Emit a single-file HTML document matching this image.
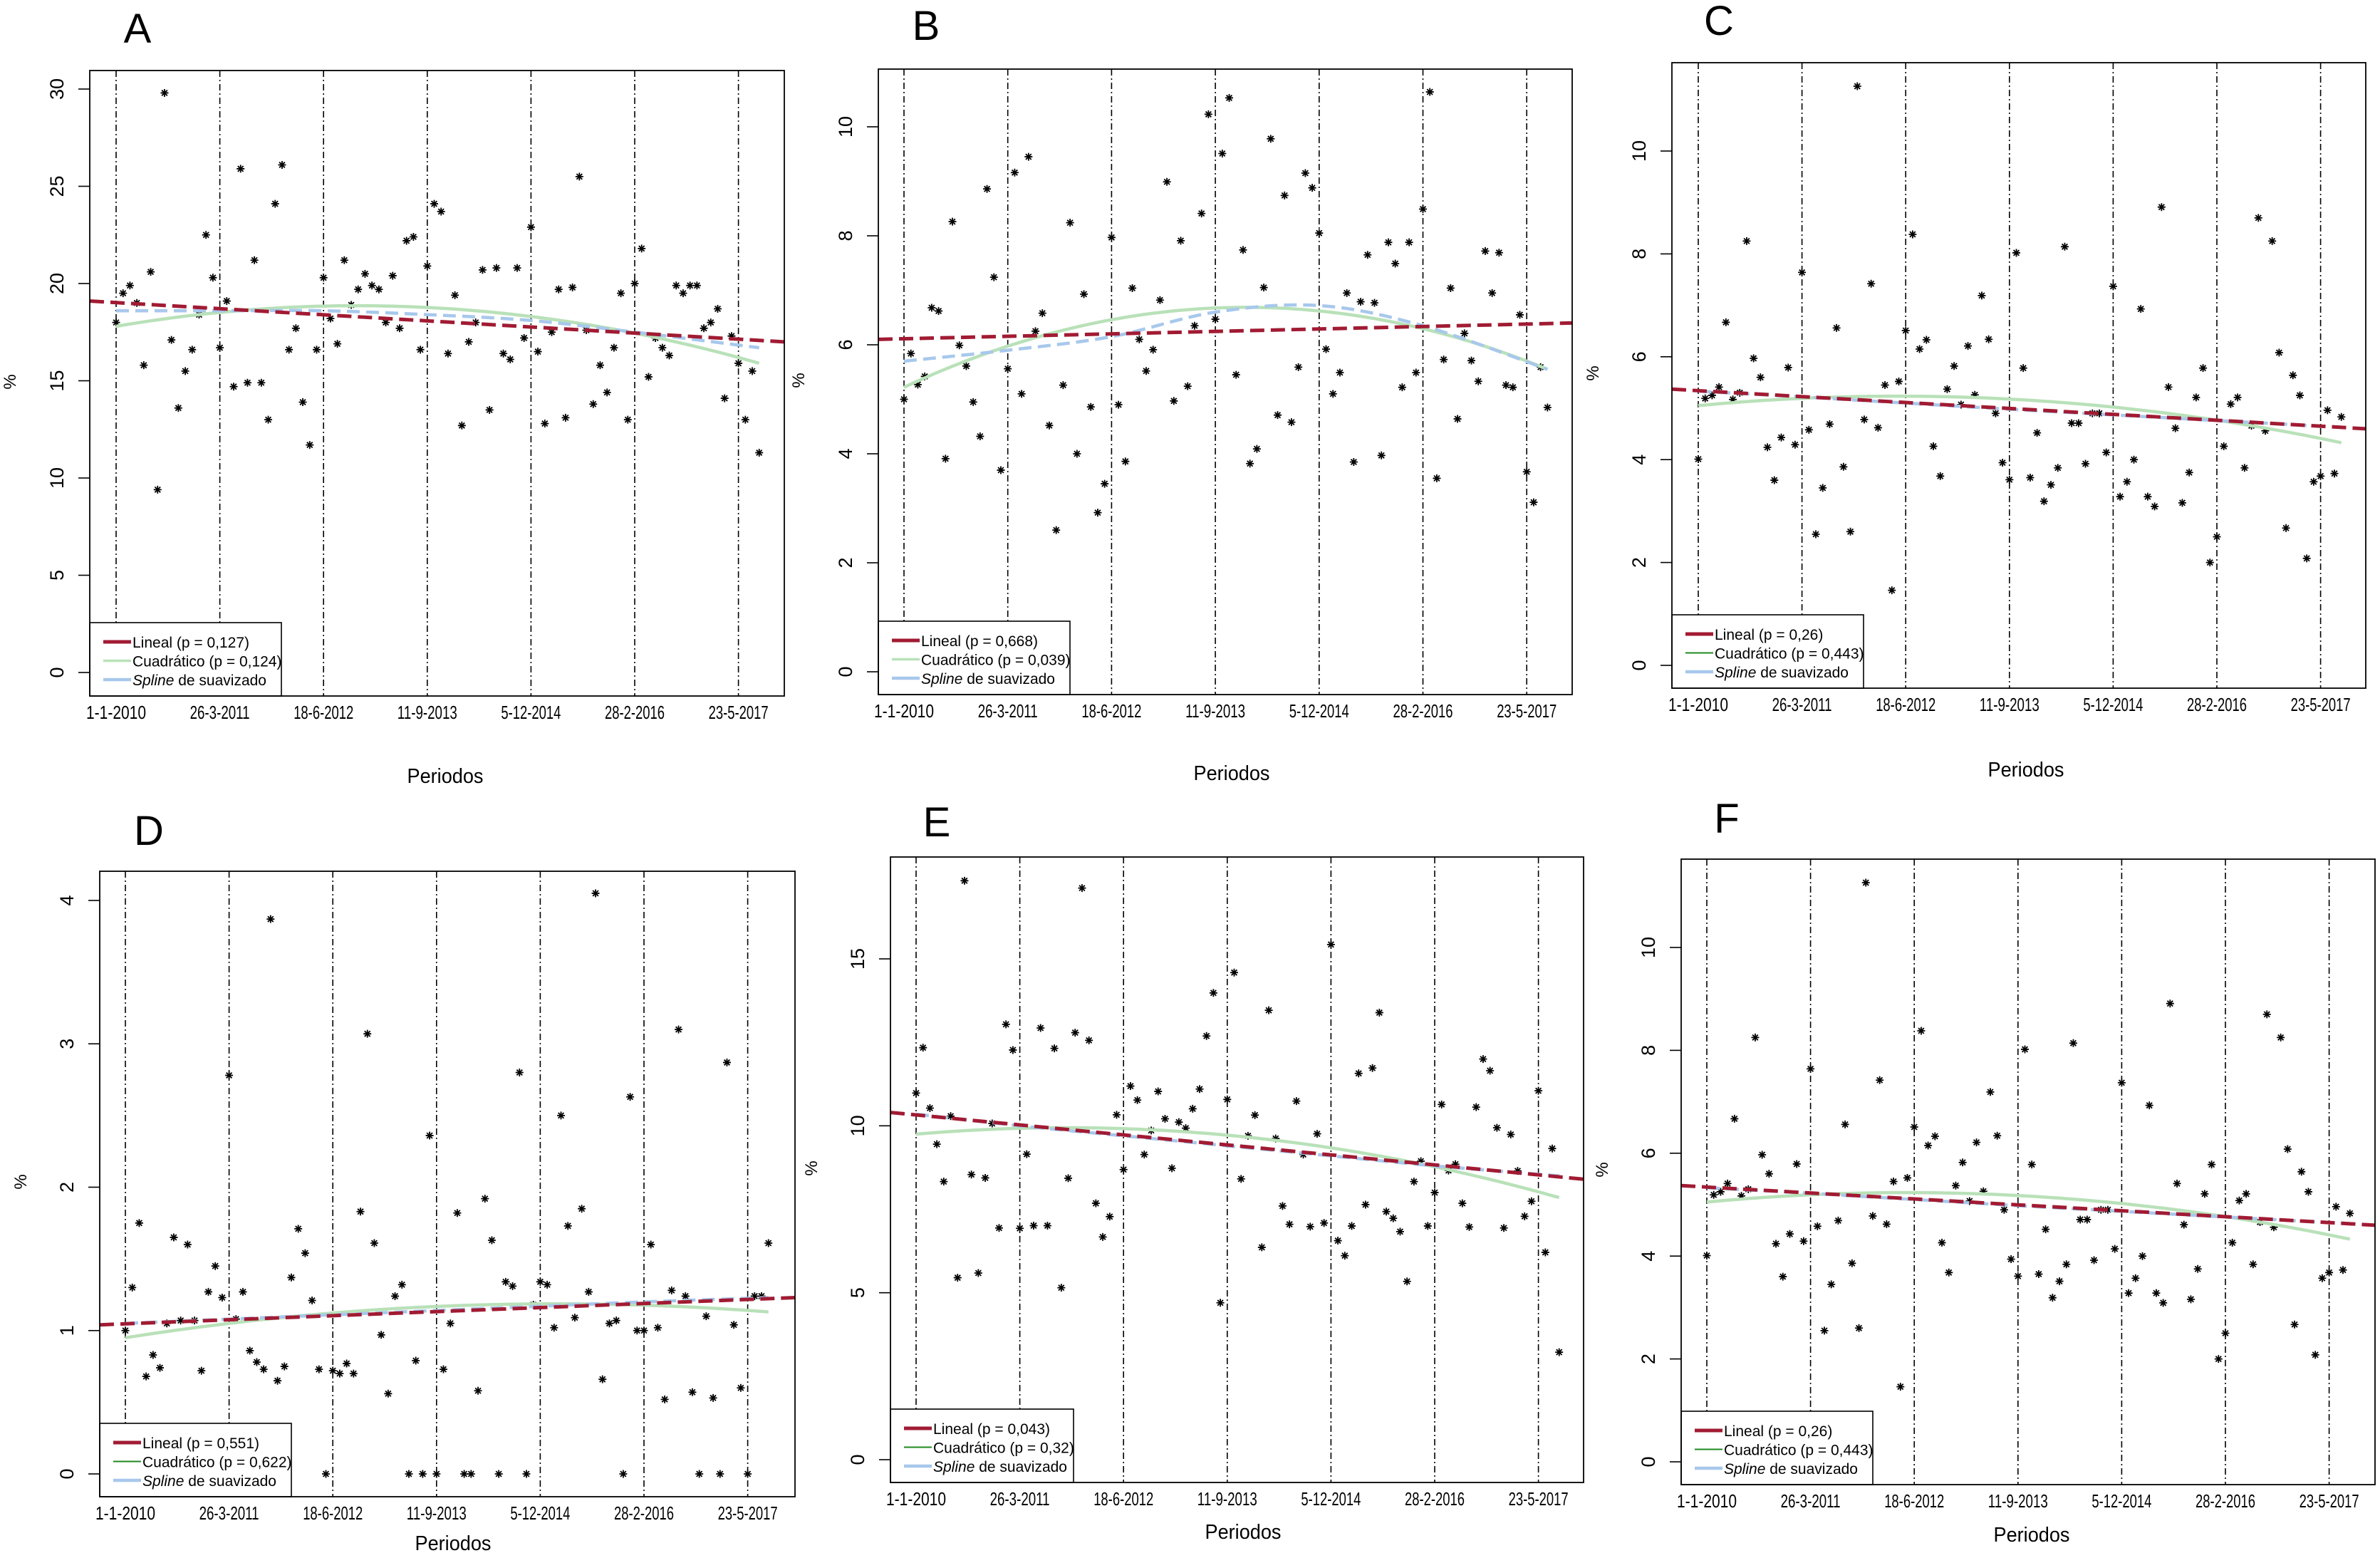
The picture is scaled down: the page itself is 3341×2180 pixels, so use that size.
<!DOCTYPE html>
<html><head><meta charset="utf-8"><style>
html,body{margin:0;padding:0;background:#fff;}
svg{display:block;font-family:"Liberation Sans",Arial,sans-serif;}
</style></head><body>
<svg id="fig" width="3341" height="2180" viewBox="0 0 3341 2180" xmlns="http://www.w3.org/2000/svg"></svg>
<script>
// ---- data (monthly values, month index 0..93) ----
const xTickLabels = ["1-1-2010","26-3-2011","18-6-2012","11-9-2013","5-12-2014","28-2-2016","23-5-2017"];
const valsA = [18.0,19.5,19.9,19.0,15.8,20.6,9.4,29.8,17.1,13.6,15.5,16.6,18.4,22.5,20.3,16.7,19.1,14.7,25.9,14.9,21.2,14.9,13.0,24.1,26.1,16.6,17.7,13.9,11.7,16.6,20.3,18.2,16.9,21.2,18.9,19.7,20.5,19.9,19.7,18.0,20.4,17.7,22.2,22.4,16.6,20.9,24.1,23.7,16.4,19.4,12.7,17.0,18.0,20.7,13.5,20.8,16.4,16.1,20.8,17.2,22.9,16.5,12.8,17.5,19.7,13.1,19.8,25.5,17.6,13.8,15.8,14.4,16.7,19.5,13.0,20.0,21.8,15.2,17.2,16.7,16.3,19.9,19.5,19.9,19.9,17.7,18.0,18.7,14.1,17.3,15.9,13.0,15.5,11.3];
const valsB = [5.0,5.84,5.27,5.42,6.68,6.62,3.91,8.26,5.99,5.61,4.95,4.32,8.86,7.24,3.70,5.56,9.16,5.10,9.45,6.25,6.58,4.52,2.60,5.26,8.24,4.00,6.93,4.86,2.92,3.45,7.97,4.90,3.86,7.04,6.10,5.52,5.91,6.82,8.99,4.97,7.91,5.24,6.35,8.41,10.23,6.47,9.51,10.53,5.45,7.74,3.82,4.09,7.05,9.78,4.71,8.74,4.58,5.59,9.15,8.88,8.05,5.92,5.10,5.49,6.95,3.85,6.79,7.65,6.77,3.97,7.88,7.49,5.22,7.88,5.49,8.49,10.64,3.55,5.73,7.04,4.64,6.21,5.71,5.33,7.72,6.95,7.69,5.26,5.22,6.55,3.67,3.11,5.59,4.85];
const valsC = [4.01,5.19,5.25,5.41,6.67,5.17,5.3,8.25,5.97,5.60,4.24,3.60,4.43,5.79,4.29,7.64,4.58,2.55,3.45,4.69,6.56,3.86,2.60,11.26,4.78,7.42,4.62,5.45,1.46,5.52,6.51,8.38,6.15,6.33,4.26,3.68,5.37,5.82,5.07,6.21,5.26,7.19,6.34,4.90,3.94,3.61,8.02,5.78,3.65,4.52,3.19,3.51,3.84,8.14,4.71,4.71,3.92,4.90,4.90,4.14,7.37,3.28,3.57,4.00,6.93,3.28,3.09,8.91,5.41,4.61,3.16,3.75,5.21,5.78,2.00,2.50,4.26,5.08,5.21,3.84,4.66,8.70,4.56,8.25,6.08,2.67,5.64,5.25,2.08,3.57,3.68,4.96,3.73,4.83];
const valsD = [1.00,1.30,1.75,0.68,0.83,0.74,1.05,1.65,1.07,1.60,1.07,0.72,1.27,1.45,1.23,2.78,1.08,1.27,0.86,0.78,0.73,3.87,0.65,0.75,1.37,1.71,1.54,1.21,0.73,0,0.72,0.70,0.77,0.70,1.83,3.07,1.61,0.97,0.56,1.24,1.32,0,0.79,0,2.36,0,0.73,1.05,1.82,0,0,0.58,1.92,1.63,0,1.34,1.31,2.80,0,1.18,1.34,1.32,1.02,2.50,1.73,1.09,1.85,1.27,4.05,0.66,1.05,1.07,0,2.63,1.00,1.00,1.60,1.02,0.52,1.28,3.10,1.24,0.57,0,1.10,0.53,0,2.87,1.04,0.60,0,1.24,1.24,1.61];
const valsE = [10.98,12.34,10.53,9.45,8.33,10.29,5.45,17.34,8.54,5.59,8.44,10.07,6.94,13.04,12.27,6.93,9.15,7.01,12.93,7.01,12.32,5.15,8.43,12.79,17.12,12.56,7.68,6.67,7.28,10.33,8.69,11.19,10.77,9.14,9.86,11.03,10.21,8.73,10.11,9.93,10.51,11.10,12.69,13.98,4.70,10.79,14.59,8.41,9.70,10.32,6.36,13.46,9.62,7.60,7.05,10.74,9.14,6.98,9.76,7.09,15.43,6.56,6.11,7.00,11.57,7.64,11.73,13.39,7.43,7.23,6.83,5.34,8.33,8.94,7.00,8.00,10.64,8.66,8.85,7.68,6.97,10.56,12.00,11.65,9.94,6.94,9.74,8.65,7.29,7.74,11.05,6.21,9.32,3.22];
const valsF = valsC.slice();
// fitted lines
const linA=[19.1,17.0], linB=[6.1,6.4], linC=[5.37,4.6], linD=[1.04,1.23], linE=[10.4,8.4], linF=[5.37,4.6];
const quadMonths=[0,46,93];
const quadA=[17.8,18.75,15.9], quadB=[5.22,6.68,5.55], quadC=[5.05,5.17,4.33], quadD=[0.95,1.17,1.13], quadE=[9.75,9.7,7.85], quadF=[5.05,5.17,4.33];
const splMonths=[0,15,30,45,60,75,93];
const splA=[18.6,18.6,18.6,18.4,18.1,17.5,16.7], splB=[5.7,5.9,6.15,6.6,6.72,6.35,5.55], splC=[5.33,5.22,5.1,4.98,4.87,4.76,4.63], splD=[1.05,1.08,1.11,1.14,1.17,1.2,1.23], splE=[10.35,10.0,9.7,9.4,9.1,8.8,8.5], splF=[5.33,5.22,5.1,4.98,4.87,4.76,4.63];
const yTicksA=[0,5,10,15,20,25,30], yTicksB=[0,2,4,6,8,10], yTicksC=[0,2,4,6,8,10], yTicksD=[0,1,2,3,4], yTicksE=[0,5,10,15], yTicksF=[0,2,4,6,8,10];
const pLin=["0,127","0,668","0,26","0,551","0,043","0,26"];
const pQuad=["0,124","0,039","0,443","0,622","0,32","0,443"];

// ---- layout ----
const panels=[
 {id:"A",box:[126,99,1101,977],v0:163,step:145.6,y0:944,yr:30,yrPx:125,title:[193,39],per:[625,1089],pct:[14,536],vals:valsA,lin:linA,quad:quadA,spl:splA,ticks:yTicksA,legW:269,qLight:true},
 {id:"B",box:[1233,97,2207,975],v0:1269,step:145.7,y0:943,yr:10,yrPx:178,title:[1300,35],per:[1729,1085],pct:[1121,534],vals:valsB,lin:linB,quad:quadB,spl:splB,ticks:yTicksB,legW:269,qLight:true},
 {id:"C",box:[2347,88,3321,966],v0:2384,step:145.6,y0:934,yr:10,yrPx:212,title:[2413,28],per:[2844,1080],pct:[2236,524],vals:valsC,lin:linC,quad:quadC,spl:splC,ticks:yTicksC,legW:269,qLight:false},
 {id:"D",box:[140,1223,1116,2101],v0:176,step:145.6,y0:2069,yr:4,yrPx:1264,title:[209,1165],per:[636,2166],pct:[29,1659],vals:valsD,lin:linD,quad:quadD,spl:splD,ticks:yTicksD,legW:269,qLight:false},
 {id:"E",box:[1250,1203,2223,2081],v0:1286,step:145.6,y0:2049,yr:15,yrPx:1346,title:[1315,1153],per:[1745,2150],pct:[1139,1640],vals:valsE,lin:linE,quad:quadE,spl:splE,ticks:yTicksE,legW:257,qLight:false},
 {id:"F",box:[2360,1206,3334,2084],v0:2396,step:145.6,y0:2052,yr:10,yrPx:1330,title:[2424,1148],per:[2852,2154],pct:[2249,1642],vals:valsF,lin:linF,quad:quadF,spl:splF,ticks:yTicksF,legW:269,qLight:true}
];
panels[5].qLight=false;
const NS="http://www.w3.org/2000/svg";
const svg=document.getElementById("fig");
function mk(tag,attrs,parent){const e=document.createElementNS(NS,tag);for(const k in attrs)e.setAttribute(k,attrs[k]);(parent||svg).appendChild(e);return e;}
const RED="#a11b33",LGREEN="#b9e1b9",DGREEN="#1f8a1f",BLUE="#a8c8ec";

panels.forEach((p,pi)=>{
  const [L,T,R,B]=p.box;
  const xOf=m=>p.v0+m*p.step/15;
  const yOf=v=>p.y0-v*(p.y0-p.yrPx)/p.yr;
  const mOfX=x=>(x-p.v0)*15/p.step;
  const g=mk("g",{});
  
  
  const clipId="clip"+p.id;
  const cp=mk("clipPath",{id:clipId},g);mk("rect",{x:L,y:T,width:R-L,height:B-T},cp);
  // title
  const t=mk("text",{x:p.title[0],y:p.title[1]+21,"font-size":58,"text-anchor":"middle",fill:"#000"},g);t.textContent=p.id;
  
  
  // vlines
  xTickLabels.forEach((lab,k)=>{
    const x=xOf(k*15);
    const vl=mk("line",{x1:x,y1:T,x2:x,y2:B,stroke:"#000","stroke-width":1.6,"stroke-dasharray":"9 4 2 4"},g);
    
    
    const tl=mk("text",{x:x,y:B+32,"font-size":26,"text-anchor":"middle",textLength:84,lengthAdjust:"spacingAndGlyphs"},g);
    tl.textContent=lab;
    
    
  });
  // y ticks
  p.ticks.forEach(v=>{
    const y=yOf(v);
    const tk=mk("line",{x1:L-16,y1:y,x2:L,y2:y,stroke:"#000","stroke-width":1.6},g);
    
    
    const tx=mk("text",{x:0,y:0,"font-size":27,"text-anchor":"middle",transform:`translate(${L-37},${y}) rotate(-90)`},g);
    tx.textContent=String(v);
    
    
  });
  // axis titles
  const yt=mk("text",{x:0,y:0,"font-size":24,"text-anchor":"middle",transform:`translate(${p.pct[0]+8},${p.pct[1]}) rotate(-90)`},g);yt.textContent="%";
  
  
  const xt=mk("text",{x:p.per[0],y:p.per[1]+10,"font-size":29,"text-anchor":"middle",textLength:107,lengthAdjust:"spacingAndGlyphs"},g);xt.textContent="Periodos";
  
  
  // stars
  const pg=mk("g",{"clip-path":`url(#${clipId})`},g);
  p.vals.forEach((v,m)=>{
    const x=xOf(m),y=yOf(v),r=5.5,d=3.9;
    const s=mk("path",{d:`M${x-r} ${y}H${x+r}M${x} ${y-r}V${y+r}M${x-d} ${y-d}L${x+d} ${y+d}M${x-d} ${y+d}L${x+d} ${y-d}`,stroke:"#000","stroke-width":1.8,fill:"none"},pg);
    
    
  });
  // quadratic: parabola through 3 points
  const [m0,m1,m2]=quadMonths,[q0,q1,q2]=p.quad;
  const qf=m=>q0*((m-m1)*(m-m2))/((m0-m1)*(m0-m2))+q1*((m-m0)*(m-m2))/((m1-m0)*(m1-m2))+q2*((m-m0)*(m-m1))/((m2-m0)*(m2-m1));
  let qd="";for(let m=0;m<=93;m+=1)qd+=(m?"L":"M")+xOf(m).toFixed(1)+" "+yOf(qf(m)).toFixed(1);
  const ql=mk("path",{d:qd,stroke:LGREEN,"stroke-width":4.5,fill:"none"},pg);
  
  
  // spline: catmull-rom through knots
  const pts=splMonths.map((m,i)=>[xOf(m),yOf(p.spl[i])]);
  let sd="M"+pts[0][0]+" "+pts[0][1];
  for(let i=0;i<pts.length-1;i++){
    const p0=pts[Math.max(0,i-1)],p1=pts[i],p2=pts[i+1],p3=pts[Math.min(pts.length-1,i+2)];
    sd+=`C${p1[0]+(p2[0]-p0[0])/6} ${p1[1]+(p2[1]-p0[1])/6} ${p2[0]-(p3[0]-p1[0])/6} ${p2[1]-(p3[1]-p1[1])/6} ${p2[0]} ${p2[1]}`;
  }
  const sl=mk("path",{d:sd,stroke:BLUE,"stroke-width":4.5,fill:"none","stroke-dasharray":"18 9"},pg);
  
  
  // linear
  const ll=mk("line",{x1:L,y1:yOf(p.lin[0]),x2:R,y2:yOf(p.lin[1]),stroke:RED,"stroke-width":5,"stroke-dasharray":"20 9"},pg);
  
  
  // legend
  const lg=mk("g",{},g);
  
  
  mk("rect",{x:L,y:B-103,width:p.legW,height:103,fill:"#fff",stroke:"#000","stroke-width":1.6},lg);
  const rows=[["Lineal (p = "+pLin[pi]+")",RED,5],["Cuadrático (p = "+pQuad[pi]+")",p.qLight?LGREEN:DGREEN,p.qLight?3.5:2],[null,BLUE,4.5]];
  rows.forEach((r,k)=>{
    const y=B-76+k*26.5;
    const ln=mk("line",{x1:L+19,y1:y,x2:L+58,y2:y,stroke:r[1],"stroke-width":r[2]},lg);
    
    
    const tx=mk("text",{x:L+60,y:y+8,"font-size":21},lg);
    if(r[0])tx.textContent=r[0];
    else{const a=mk("tspan",{"font-style":"italic"},tx);a.textContent="Spline";const b=mk("tspan",{},tx);b.textContent=" de suavizado";}
    
    
  });
  // box
  const bx=mk("rect",{x:L,y:T,width:R-L,height:B-T,fill:"none",stroke:"#000","stroke-width":1.8},g);
  
  
});
</script>
</body></html>
